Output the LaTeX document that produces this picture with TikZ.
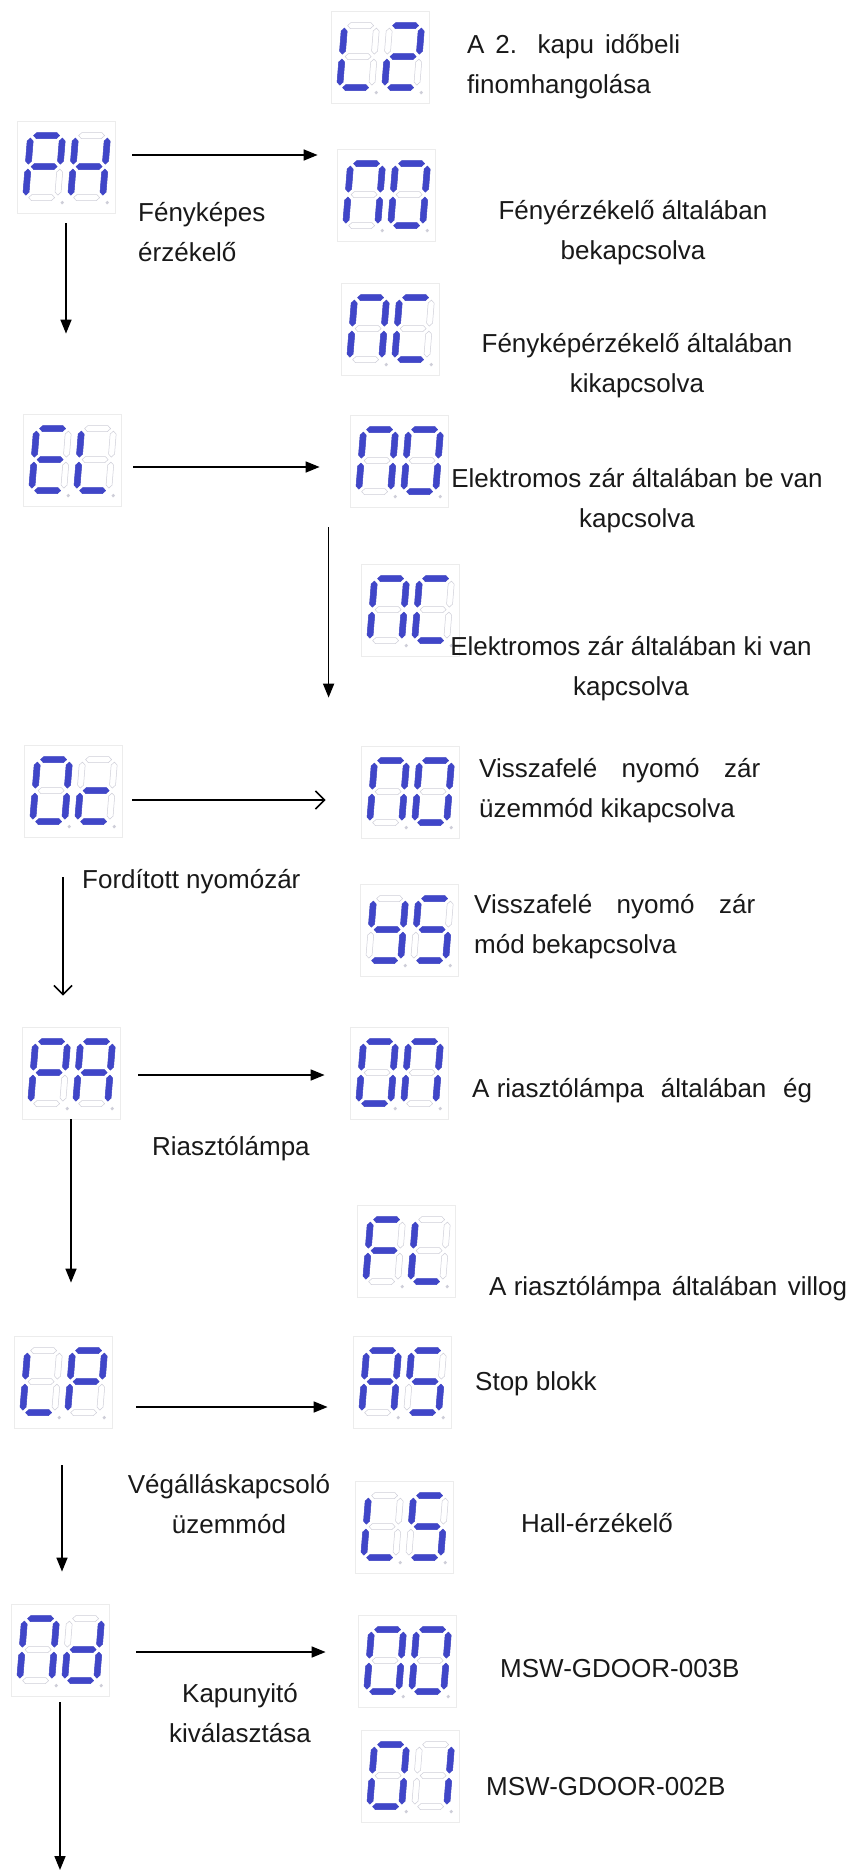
\documentclass[tikz,border=0pt]{standalone}
\usepackage{fontspec}
\setmainfont{Liberation Sans}
\usetikzlibrary{arrows.meta}
\definecolor{segblue}{RGB}{64,70,200}
\definecolor{seggray}{RGB}{206,206,216}
\definecolor{boxgray}{RGB}{236,236,236}
\definecolor{txtgray}{RGB}{25,25,25}
\tikzset{
  seg a/.style={shift={(16,0)}},
  seg b/.style={shift={(32,15.5)},rotate=90},
  seg c/.style={shift={(32,46.5)},rotate=90},
  seg d/.style={shift={(16,62)}},
  seg e/.style={shift={(0,46.5)},rotate=90},
  seg f/.style={shift={(0,15.5)},rotate=90},
  seg g/.style={shift={(16,31)}},
  segoff/.style={draw=seggray,line width=0.5pt},
  segon/.style={fill=segblue,draw=segblue,line width=0.5pt},
  dispbox/.style={draw=boxgray,line width=0.8pt,minimum width=98pt,minimum height=92pt,inner sep=0pt},
  lbl/.style={font=\fontsize{26}{40}\selectfont,text=txtgray,inner sep=0pt},
  arr/.style={line width=1.6pt,-{Triangle[length=14pt,width=11pt]}},
  arropen/.style={line width=1.6pt,-{Straight Barb[length=9pt,width=18pt]}},
}
\newcommand{\segbar}{(-13,0) -- (-10,-3) -- (10,-3) -- (13,0) -- (10,3) -- (-10,3) -- cycle}
\newcommand{\segdigit}[2]{%
  \begin{scope}[shift={(#1,15)},xslant=0.08]
    \foreach \n in {a,b,c,d,e,f,g} \draw[segoff,seg \n] \segbar;
    \foreach \n in {#2} \filldraw[segon,seg \n] \segbar;
    \fill[seggray] (37,67) circle (1.8);
  \end{scope}}
\newcommand{\segpair}[3]{%
  \begin{scope}[shift={(#1.north west)}]
    \segdigit{14}{#2}
    \segdigit{59}{#3}
  \end{scope}}
\begin{document}
\begin{tikzpicture}[x=1pt,y=-1pt]
  \useasboundingbox[fill=white] (0,0) rectangle (851,1876);
  \node[dispbox] (l2) at (380,57) {};
  \node[dispbox] (ph) at (66,167) {};
  \node[dispbox] (phno) at (386,195) {};
  \node[dispbox] (phnc) at (390,329) {};
  \node[dispbox] (el) at (72,460) {};
  \node[dispbox] (elno) at (399,461) {};
  \node[dispbox] (elnc) at (410,610) {};
  \node[dispbox] (oc) at (73,791) {};
  \node[dispbox] (ocno) at (410,792) {};
  \node[dispbox] (ocys) at (409,930) {};
  \node[dispbox] (pa) at (71,1073) {};
  \node[dispbox] (paon) at (399,1073) {};
  \node[dispbox] (pafl) at (406,1251) {};
  \node[dispbox] (lp) at (63,1382) {};
  \node[dispbox] (lpas) at (402,1382) {};
  \node[dispbox] (lpls) at (404,1527) {};
  \node[dispbox] (nd) at (60,1650) {};
  \node[dispbox] (ndoo) at (407,1661) {};
  \node[dispbox] (ndoi) at (410,1776) {};

  \segpair{l2}{d,e,f}{a,b,g,e,d}
  \segpair{ph}{a,b,e,f,g}{b,c,e,f,g}
  \segpair{phno}{a,b,c,e,f}{a,b,c,d,e,f}
  \segpair{phnc}{a,b,c,e,f}{a,d,e,f}
  \segpair{el}{a,d,e,f,g}{d,e,f}
  \segpair{elno}{a,b,c,e,f}{a,b,c,d,e,f}
  \segpair{elnc}{a,b,c,e,f}{a,d,e,f}
  \segpair{oc}{a,b,c,d,e,f}{d,e,g}
  \segpair{ocno}{a,b,c,e,f}{a,b,c,d,e,f}
  \segpair{ocys}{b,c,d,f,g}{a,c,d,f,g}
  \segpair{pa}{a,b,e,f,g}{a,b,c,e,f,g}
  \segpair{paon}{a,b,c,d,e,f}{a,b,c,e,f}
  \segpair{pafl}{a,e,f,g}{d,e,f}
  \segpair{lp}{d,e,f}{a,b,e,f,g}
  \segpair{lpas}{a,b,c,e,f,g}{a,c,d,f,g}
  \segpair{lpls}{d,e,f}{a,c,d,f,g}
  \segpair{nd}{a,b,c,e,f}{b,c,d,e,g}
  \segpair{ndoo}{a,b,c,d,e,f}{a,b,c,d,e,f}
  \segpair{ndoi}{a,b,c,d,e,f}{b,c}

  \node[lbl,anchor=base west,align=left] (l2txt) at (467,93) {\makebox[213pt][s]{A 2. kapu időbeli}\\finomhangolása};
  \node[lbl,anchor=base west,align=left] (phtxt) at (138,261) {Fényképes\\érzékelő};
  \node[lbl,anchor=base,align=center] (phnotxt) at (633,259) {Fényérzékelő általában\\bekapcsolva};
  \node[lbl,anchor=base,align=center] (phnctxt) at (637,392) {Fényképérzékelő általában\\kikapcsolva};
  \node[lbl,anchor=base,align=center] (elnotxt) at (637,527) {Elektromos zár általában be van\\kapcsolva};
  \node[lbl,anchor=base,align=center] (elnctxt) at (631,695) {Elektromos zár általában ki van\\kapcsolva};
  \node[lbl,anchor=base west,align=left] (ocnotxt) at (479,817) {\makebox[281pt][s]{Visszafelé nyomó zár}\\üzemmód kikapcsolva};
  \node[lbl,anchor=base west] (octxt) at (82,888) {Fordított nyomózár};
  \node[lbl,anchor=base west,align=left] (ocystxt) at (474,953) {\makebox[281pt][s]{Visszafelé nyomó zár}\\mód bekapcsolva};
  \node[lbl,anchor=base west] (paontxt) at (472,1097) {\makebox[340pt][s]{\mbox{A riasztólámpa} általában ég}};
  \node[lbl,anchor=base west] (patxt) at (152,1155) {Riasztólámpa};
  \node[lbl,anchor=base west] (pafltxt) at (489,1295) {\makebox[358pt][s]{\mbox{A riasztólámpa} általában villog}};
  \node[lbl,anchor=base west] (lpastxt) at (475,1390) {Stop blokk};
  \node[lbl,anchor=base,align=center] (lptxt) at (229,1533) {Végálláskapcsoló\\üzemmód};
  \node[lbl,anchor=base west] (lplstxt) at (521,1532) {Hall-érzékelő};
  \node[lbl,anchor=base west] (ndootxt) at (500,1677) {MSW-GDOOR-003B};
  \node[lbl,anchor=base,align=center] (ndtxt) at (240,1742) {Kapunyitó\\kiválasztása};
  \node[lbl,anchor=base west] (ndoitxt) at (486,1795) {MSW-GDOOR-002B};

  \coordinate (pha) at ([xshift=17pt,yshift=12pt]ph.east);
  \coordinate (ela) at ([xshift=12pt,yshift=-7pt]el.east);
  \coordinate (elgo) at ([xshift=-21pt]elno.south west);
  \coordinate (oca) at ([xshift=10pt,yshift=-9pt]oc.east);
  \coordinate (ocgo) at ([xshift=-10pt]oc.south);
  \coordinate (paa) at ([xshift=18pt,yshift=-2pt]pa.east);
  \coordinate (lpa) at ([xshift=24pt,yshift=-25pt]lp.east);
  \coordinate (lpgo) at ([xshift=-1pt]lp.south);
  \coordinate (nda) at ([xshift=27pt,yshift=-2pt]nd.east);
  \coordinate (ndend) at (60,1870);

  \draw[arr,shorten >=19pt] (pha) -- (pha -| phno.west);
  \draw[arr,shorten <=10pt,shorten >=80pt] (ph.south) -- (ph.south |- el.north);
  \draw[arr,shorten >=30pt] (ela) -- (ela -| elno.west);
  \draw[arr,shorten <=20pt,shorten >=47pt] (elgo) -- (elgo |- oc.north);
  \draw[arropen,shorten >=35pt] (oca) -- (oca -| ocno.west);
  \draw[arropen,shorten <=40pt,shorten >=31pt] (ocgo) -- (ocgo |- pa.north);
  \draw[arr,shorten >=25pt] (paa) -- (paa -| paon.west);
  \draw[arr,shorten >=53pt] (pa.south) -- (pa.south |- lp.north);
  \draw[arr,shorten >=25pt] (lpa) -- (lpa -| lpas.west);
  \draw[arr,shorten <=37pt,shorten >=32pt] (lpgo) -- (lpgo |- nd.north);
  \draw[arr,shorten >=32pt] (nda) -- (nda -| ndoo.west);
  \draw[arr,shorten <=6pt] (nd.south) -- (ndend);
\end{tikzpicture}
\end{document}
